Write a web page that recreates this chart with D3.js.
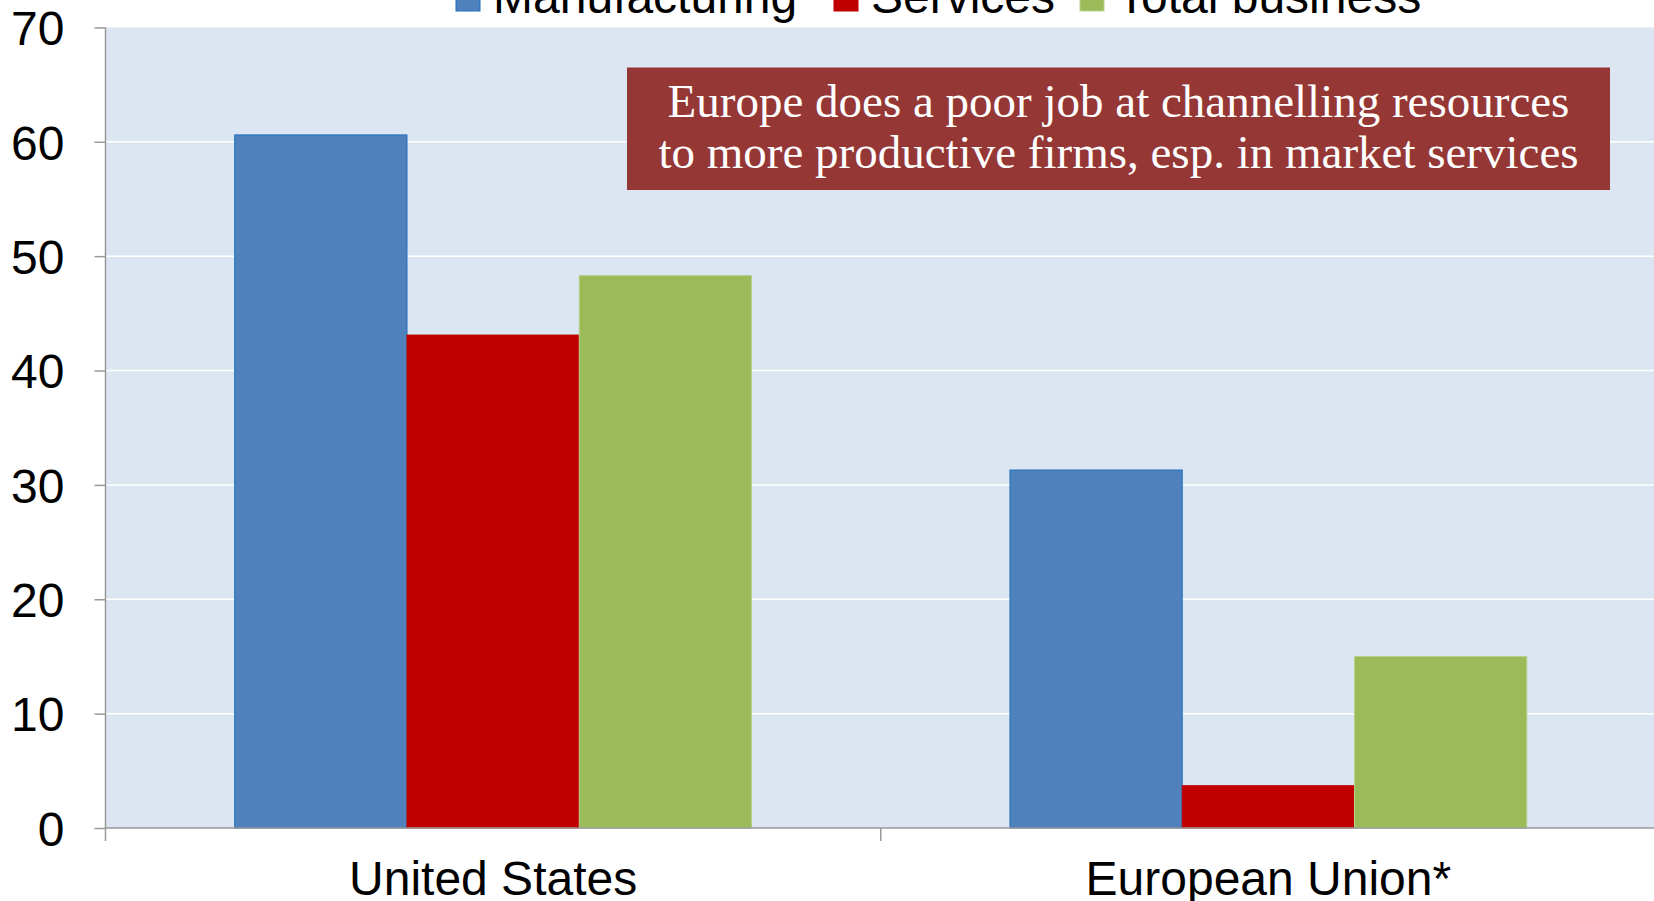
<!DOCTYPE html>
<html>
<head>
<meta charset="utf-8">
<script src="https://cdn.jsdelivr.net/npm/d3@7"></script>
<style>
  html, body { margin: 0; padding: 0; background: #ffffff; }
  svg { display: block; }
</style>
</head>
<body>
<svg id="chart" width="1654" height="901"></svg>
<script>
// Share of resources flowing to more productive firms, by sector
const regions = ["United States", "European Union*"];
const seriesNames = ["Manufacturing", "Services", "Total business"];
const manufacturing = [60.6, 31.3];
const services = [43.1, 3.7];
const totalBusiness = [48.3, 15.0];
const yTicks = [0, 10, 20, 30, 40, 50, 60, 70];
const noteLines = [
  "Europe does a poor job at channelling resources",
  "to more productive firms, esp. in market services"
];

const colors = ["#4f81bd", "#c00000", "#9bbb59"];
const strokes = ["#1f6fc0", "#c00000", "#b9cf8c"];
const seriesValues = [manufacturing, services, totalBusiness];
const sansFont = "'Liberation Sans', Arial, sans-serif";

const svg = d3.select("#chart");
const plotLeft = 105.5, plotRight = 1656, plotTop = 27.4, plotBottom = 828;

const x0 = d3.scaleBand().domain(regions).range([plotLeft, plotRight]).paddingInner(0).paddingOuter(0);
const x1 = d3.scaleBand().domain(seriesNames).range([0, x0.bandwidth()]).paddingInner(0).paddingOuter(0.75);
const y = d3.scaleLinear().domain([0, 70]).range([plotBottom, plotTop]);

// plot area background
svg.append("rect")
  .attr("x", plotLeft).attr("y", plotTop)
  .attr("width", plotRight - plotLeft).attr("height", plotBottom - plotTop)
  .attr("fill", "#dce6f2");

// horizontal gridlines
svg.append("g").selectAll("line")
  .data(yTicks.filter(d => d > 0 && d < 70))
  .join("line")
  .attr("x1", plotLeft).attr("x2", plotRight)
  .attr("y1", d => y(d)).attr("y2", d => y(d))
  .attr("stroke", "#ffffff").attr("stroke-width", 1.5);

// bars
const rows = regions.map((r, i) => ({ region: r, values: seriesNames.map((s, k) => ({ s, k, v: seriesValues[k][i] })) }));
svg.append("g").selectAll("g")
  .data(rows)
  .join("g")
  .attr("transform", d => `translate(${x0(d.region)},0)`)
  .selectAll("rect")
  .data(d => d.values)
  .join("rect")
  .attr("x", d => x1(d.s))
  .attr("y", d => y(d.v))
  .attr("width", x1.bandwidth())
  .attr("height", d => y(0) - y(d.v))
  .attr("fill", d => colors[d.k])
  .attr("stroke", d => strokes[d.k])
  .attr("stroke-width", 1);

// y axis
const yAxis = d3.axisLeft(y).tickValues(yTicks).tickSize(11).tickPadding(30).tickFormat(d3.format("d"));
const gy = svg.append("g").attr("transform", `translate(${plotLeft},0)`).call(yAxis);
gy.select(".domain").remove();
gy.append("line").attr("x1", 0).attr("x2", 0).attr("y1", plotTop).attr("y2", plotBottom + 13)
  .attr("stroke", "#999999").attr("stroke-width", 1.5);
gy.selectAll(".tick line").attr("stroke", "#999999").attr("stroke-width", 1.5);
gy.selectAll(".tick text")
  .attr("fill", "#000000")
  .style("font-family", sansFont)
  .style("font-size", "48px")
  .attr("dy", "0.36em");

// x axis
const gx = svg.append("g").attr("transform", `translate(0,${plotBottom})`);
gx.append("line").attr("x1", plotLeft).attr("x2", plotRight).attr("y1", 0).attr("y2", 0)
  .attr("stroke", "#999999").attr("stroke-width", 1.5);
gx.selectAll(".sep")
  .data(regions.slice(1))
  .join("line")
  .attr("class", "sep")
  .attr("x1", d => x0(d)).attr("x2", d => x0(d))
  .attr("y1", 0).attr("y2", 13)
  .attr("stroke", "#999999").attr("stroke-width", 1.5);
gx.selectAll(".label")
  .data(regions)
  .join("text")
  .attr("class", "label")
  .attr("x", d => x0(d) + x0.bandwidth() / 2)
  .attr("y", 67)
  .attr("text-anchor", "middle")
  .attr("fill", "#000000")
  .style("font-family", sansFont)
  .style("font-size", "48px")
  .text(d => d);

// legend along the top edge
const legendX = [456, 834, 1080];
const legend = svg.append("g");
seriesNames.forEach((s, k) => {
  legend.append("rect")
    .attr("x", legendX[k]).attr("y", -13)
    .attr("width", 24).attr("height", 24)
    .attr("fill", colors[k]).attr("stroke", strokes[k]).attr("stroke-width", 1);
  legend.append("text")
    .attr("x", legendX[k] + 37).attr("y", 13)
    .attr("fill", "#000000")
    .style("font-family", sansFont)
    .style("font-size", "48px")
    .text(s);
});

// annotation box
const noteBox = { x: 627, y: 67.5, w: 983, h: 122.5 };
svg.append("rect")
  .attr("x", noteBox.x).attr("y", noteBox.y)
  .attr("width", noteBox.w).attr("height", noteBox.h)
  .attr("fill", "#953735");
svg.append("g").selectAll("text")
  .data(noteLines)
  .join("text")
  .attr("x", noteBox.x + noteBox.w / 2)
  .attr("y", (d, i) => 117 + i * 51)
  .attr("text-anchor", "middle")
  .attr("fill", "#ffffff")
  .style("font-family", "'Liberation Serif', 'Times New Roman', serif")
  .style("font-size", "47px")
  .text(d => d);
</script>
</body>
</html>
